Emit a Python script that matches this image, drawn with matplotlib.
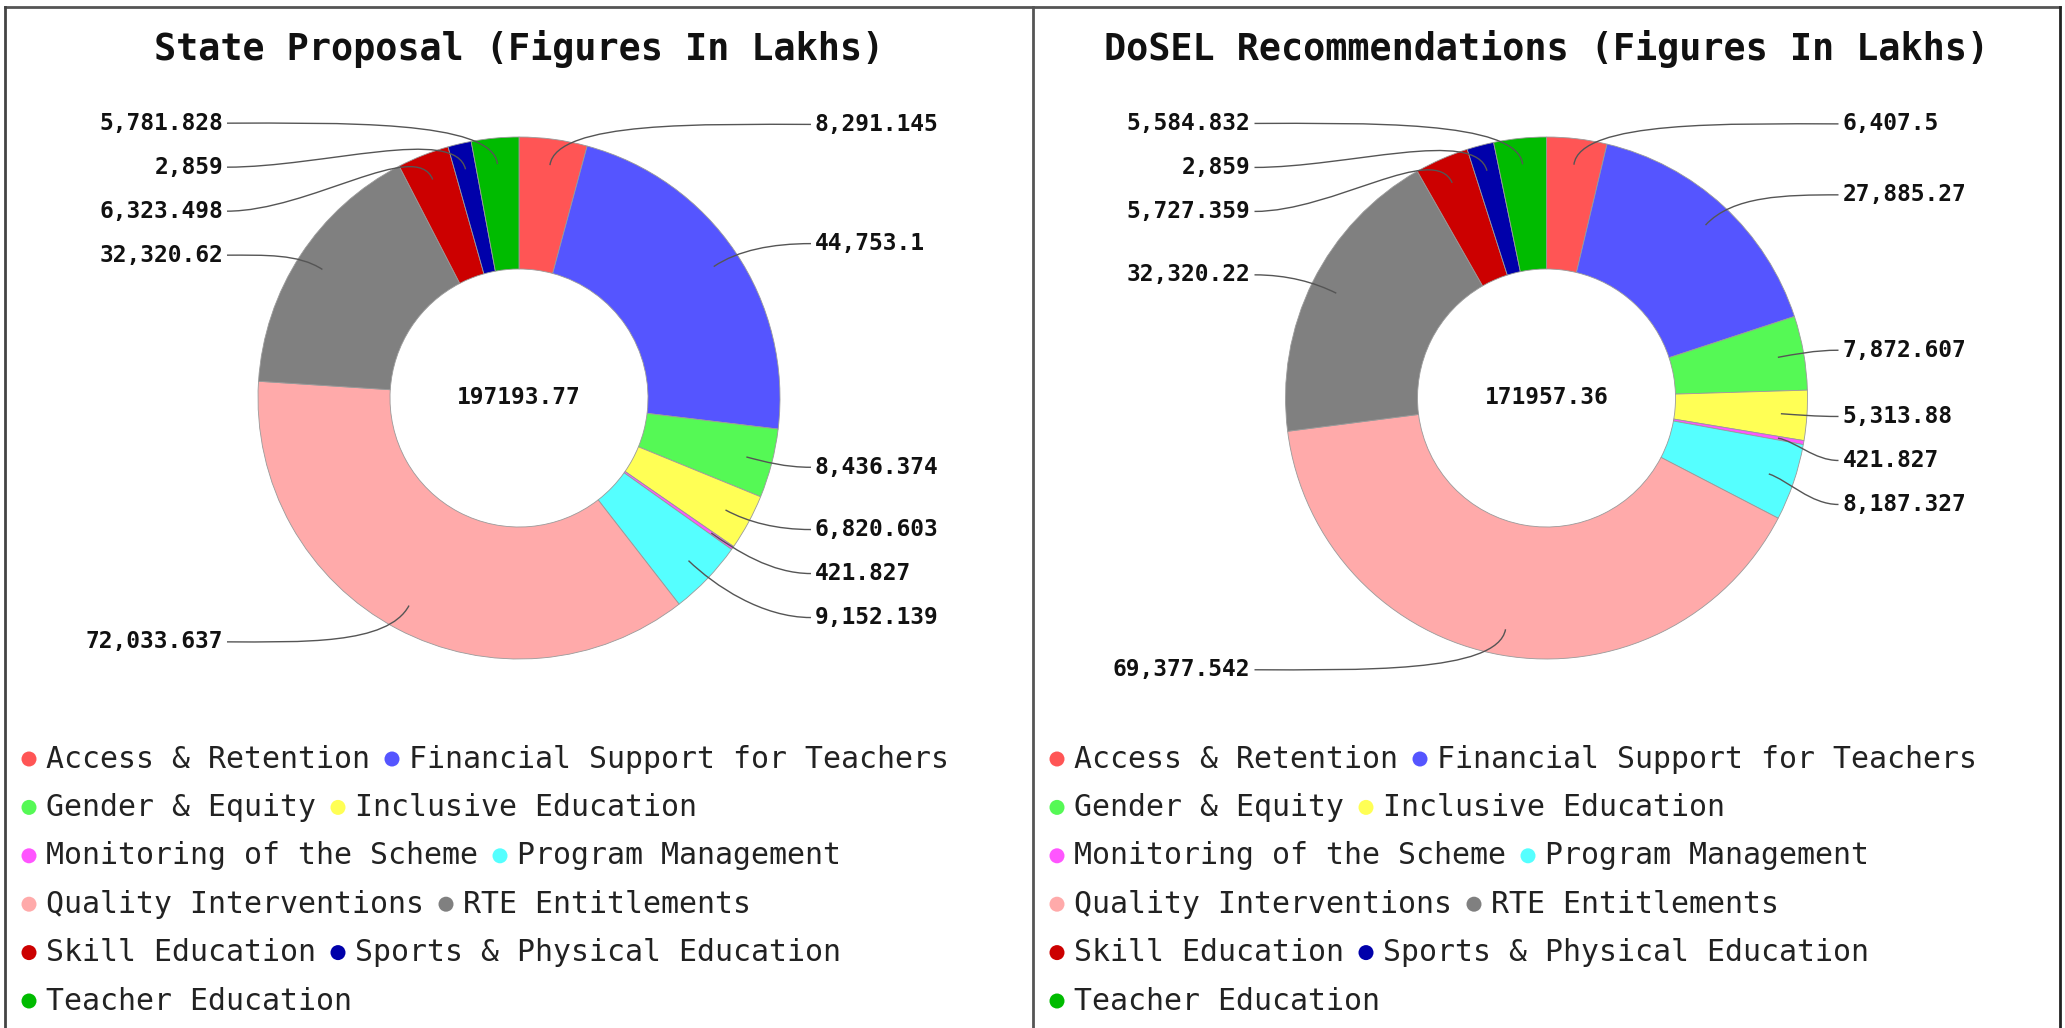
import matplotlib
matplotlib.use("Agg")
import matplotlib.pyplot as plt
import numpy as np
from matplotlib.path import Path
from matplotlib.patches import PathPatch, Circle
from matplotlib.lines import Line2D

# data (figures in lakhs)
categories = ["Access & Retention", "Financial Support for Teachers", "Gender & Equity",
              "Inclusive Education", "Monitoring of the Scheme", "Program Management",
              "Quality Interventions", "RTE Entitlements", "Skill Education",
              "Sports & Physical Education", "Teacher Education"]
state_values = [8291.145, 44753.1, 8436.374, 6820.603, 421.827, 9152.139,
                72033.637, 32320.62, 6323.498, 2859, 5781.828]
dosel_values = [6407.5, 27885.27, 7872.607, 5313.88, 421.827, 8187.327,
                69377.542, 32320.22, 5727.359, 2859, 5584.832]
titles = ["State Proposal (Figures In Lakhs)", "DoSEL Recommendations (Figures In Lakhs)"]
colors = ["#ff5555", "#5555ff", "#55f955", "#ffff55", "#ff55ff", "#55ffff",
          "#ffaaaa", "#808080", "#cc0000", "#0000aa", "#00bb00"]

W, H = 2065, 1028
MONO = "DejaVu Sans Mono"

fig = plt.figure(figsize=(W / 100, H / 100), dpi=100)
ax = fig.add_axes([0, 0, 1, 1])

R, R_IN = 261, 129


def draw_panel(x0, x1, title, values):
    cx = (x0 + x1) / 2
    cy = H - 398
    ax.pie(values, colors=colors, radius=R, center=(cx, cy), startangle=90,
           counterclock=False,
           wedgeprops=dict(width=R - R_IN, edgecolor="#9a9a9a", linewidth=0.6))
    vals = np.array(values, dtype=float)
    total = vals.sum()
    mids = 2 * np.pi * (np.cumsum(vals) - vals / 2) / total
    ax.text(cx, cy, f"{total:.2f}", ha="center", va="center", fontsize=16.5,
            fontweight="bold", family=MONO, color="#111111")
    ax.text(cx, H - 49, title, ha="center", va="center", fontsize=26.5,
            fontweight="bold", family=MONO, color="#111111")

    # label positions, pushed apart per side
    lab_y = cy + 276 * np.cos(mids)
    for side in (1, -1):
        idx = [i for i in range(len(vals)) if np.sign(np.sin(mids[i])) == side]
        idx.sort(key=lambda i: -lab_y[i])
        for a, b in zip(idx[:-1], idx[1:]):
            if lab_y[b] > lab_y[a] - 44:
                lab_y[b] = lab_y[a] - 44

    for i, v in enumerate(values):
        th = mids[i]
        d = np.array([np.sin(th), np.cos(th)])
        side = 1 if np.sin(th) > 0 else -1
        A = np.array([cx, cy]) + 0.9 * R * d
        L = np.array([cx + side * 292, lab_y[i]])
        span = abs(L[0] - A[0])
        P1 = L + np.array([-side * 0.4 * span, 0])
        P2 = A + d * min(45, 0.3 * span)
        path = Path([L, P1, P2, A], [Path.MOVETO, Path.CURVE4, Path.CURVE4, Path.CURVE4])
        ax.add_patch(PathPatch(path, fill=False, edgecolor="#555555", linewidth=1.0))
        ax.text(L[0] + side * 4, L[1], f"{v:,}", ha="left" if side > 0 else "right",
                va="center", fontsize=16.5, fontweight="bold", family=MONO,
                color="#111111")

    # flowing legend
    renderer = fig.canvas.get_renderer()
    mx, row_y = x0 + 24, H - 759
    for name, c in zip(categories, colors):
        t = ax.text(0, 0, name, ha="left", va="center", fontsize=21.5,
                    family=MONO, color="#222222")
        w = t.get_window_extent(renderer).width
        if mx + 17 + w > x1 - 10:
            mx = x0 + 24
            row_y -= 48.4
        ax.add_patch(Circle((mx, row_y), 7.5, color=c, linewidth=0))
        t.set_position((mx + 17, row_y))
        mx = mx + 17 + w + 22


draw_panel(5, 1033, titles[0], state_values)
draw_panel(1033, 2060, titles[1], dosel_values)

# panel borders
for xs, ys, c in [((5, 2060), (H - 7, H - 7), "#555555"),
                  ((5, 5), (0, H - 7), "#444444"),
                  ((1033, 1033), (0, H - 7), "#555555"),
                  ((2060, 2060), (0, H - 7), "#222222")]:
    ax.add_line(Line2D(xs, ys, color=c, linewidth=2.0))

ax.set_xlim(0, W)
ax.set_ylim(0, H)
ax.set_aspect("auto")
ax.axis("off")

fig.savefig("out.png", dpi=100, facecolor="white")
